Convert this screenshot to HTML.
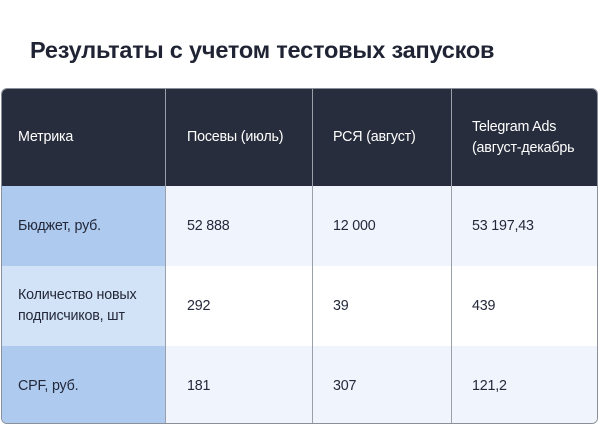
<!DOCTYPE html>
<html><head><meta charset="utf-8"><style>
body{margin:0;width:600px;height:426px;background:#fff;font-family:"Liberation Sans","DejaVu Sans",sans-serif;position:relative;overflow:hidden;color:#23283a}
h1{position:absolute;left:30px;top:37px;margin:0;font-size:23.5px;font-weight:bold;letter-spacing:-0.2px;color:#1f2333}
.t{position:absolute;left:1px;top:88px;width:597px;height:336px;border-radius:6px;overflow:hidden;border:1px solid #8a8f99;box-sizing:border-box}
.c{position:absolute;box-sizing:border-box;display:flex;align-items:center;font-size:14.3px;line-height:21px;letter-spacing:-0.2px}
.v{border-left:1px solid #9aa0aa}
.h{background:#272d3c;color:#fff;font-weight:500}
</style></head><body>
<h1>Результаты с учетом тестовых запусков</h1>
<div class="t">
<div class="c h" style="left:0;top:0;width:163px;height:97px;padding-left:16px">Метрика</div>
<div class="c h v" style="left:163px;top:0;width:147px;height:97px;padding-left:21px">Посевы (июль)</div>
<div class="c h v" style="left:310px;top:0;width:139px;height:97px;padding-left:20px">РСЯ (август)</div>
<div class="c h v" style="left:449px;top:0;width:150px;height:97px;padding-left:20px">Telegram Ads<br>(август-декабрь</div>

<div class="c" style="left:0;top:97px;width:163px;height:80px;padding-left:16px;background:#aecbef">Бюджет, руб.</div>
<div class="c v" style="left:163px;top:97px;width:147px;height:80px;padding-left:21px;background:#f0f5fd">52 888</div>
<div class="c v" style="left:310px;top:97px;width:139px;height:80px;padding-left:20px;background:#f0f5fd">12 000</div>
<div class="c v" style="left:449px;top:97px;width:150px;height:80px;padding-left:20px;background:#f0f5fd">53 197,43</div>

<div class="c" style="left:0;top:177px;width:163px;height:80px;padding-left:16px;background:#d3e3f7">Количество новых<br>подписчиков, шт</div>
<div class="c v" style="left:163px;top:177px;width:147px;height:80px;padding-left:21px;background:#fff">292</div>
<div class="c v" style="left:310px;top:177px;width:139px;height:80px;padding-left:20px;background:#fff">39</div>
<div class="c v" style="left:449px;top:177px;width:150px;height:80px;padding-left:20px;background:#fff">439</div>

<div class="c" style="left:0;top:257px;width:163px;height:80px;padding-left:16px;background:#aecbef">CPF, руб.</div>
<div class="c v" style="left:163px;top:257px;width:147px;height:80px;padding-left:21px;background:#f0f5fd">181</div>
<div class="c v" style="left:310px;top:257px;width:139px;height:80px;padding-left:20px;background:#f0f5fd">307</div>
<div class="c v" style="left:449px;top:257px;width:150px;height:80px;padding-left:20px;background:#f0f5fd">121,2</div>
</div>
</body></html>
